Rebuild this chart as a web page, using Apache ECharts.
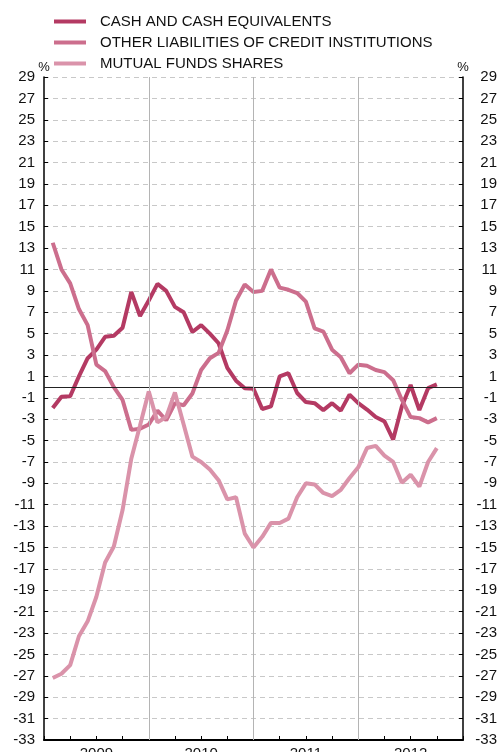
<!DOCTYPE html>
<html>
<head>
<meta charset="utf-8">
<script src="https://cdn.jsdelivr.net/npm/echarts@6/dist/echarts.min.js"></script>
<style>
  html, body { margin: 0; padding: 0; background: #fff; }
  #chart { width: 500px; height: 752px; }
</style>
</head>
<body>
<div id="chart"></div>
<script>
// Monthly observations (end of month), Jan 2009 - Sep 2012
const months = [
  '2009-01','2009-02','2009-03','2009-04','2009-05','2009-06','2009-07','2009-08','2009-09','2009-10','2009-11','2009-12',
  '2010-01','2010-02','2010-03','2010-04','2010-05','2010-06','2010-07','2010-08','2010-09','2010-10','2010-11','2010-12',
  '2011-01','2011-02','2011-03','2011-04','2011-05','2011-06','2011-07','2011-08','2011-09','2011-10','2011-11','2011-12',
  '2012-01','2012-02','2012-03','2012-04','2012-05','2012-06','2012-07','2012-08','2012-09'
];

const years = ['2009', '2010', '2011', '2012'];

const seriesNames = [
  'CASH AND CASH EQUIVALENTS',
  'OTHER LIABILITIES OF CREDIT INSTITUTIONS',
  'MUTUAL FUNDS SHARES'
];

// Annual growth rates, %
const cashEquivalents = [
  -1.95, -0.9, -0.85, 1.0, 2.7, 3.5, 4.7, 4.8, 5.55, 8.9, 6.65, 8.1,
  9.65, 9.0, 7.5, 7.0, 5.15, 5.8, 5.0, 4.1, 1.8, 0.6, -0.1, -0.15,
  -2.05, -1.8, 1.0, 1.3, -0.55, -1.4, -1.5, -2.15, -1.5, -2.2, -0.7, -1.5,
  -2.1, -2.8, -3.2, -4.9, -1.8, 0.2, -2.15, -0.1, 0.25
];

const otherLiabilities = [
  13.5, 11.0, 9.7, 7.3, 5.8, 2.1, 1.5, 0.0, -1.2, -4.0, -3.9, -3.5,
  -2.2, -3.1, -1.5, -1.7, -0.6, 1.6, 2.7, 3.2, 5.3, 8.1, 9.6, 8.9,
  9.0, 11.0, 9.3, 9.1, 8.8, 8.0, 5.5, 5.2, 3.5, 2.8, 1.3, 2.1,
  2.0, 1.6, 1.4, 0.65, -1.2, -2.8, -2.9, -3.3, -2.9
];

const mutualFunds = [
  -27.2, -26.8, -26.0, -23.3, -21.9, -19.6, -16.4, -14.9, -11.5, -6.7, -3.6, -0.4,
  -3.3, -2.8, -0.5, -3.5, -6.5, -7.0, -7.7, -8.7, -10.5, -10.3, -13.7, -15.0,
  -14.0, -12.7, -12.7, -12.3, -10.3, -9.0, -9.1, -9.9, -10.2, -9.6, -8.5, -7.5,
  -5.7, -5.5, -6.4, -7.0, -8.95, -8.2, -9.3, -7.0, -5.7
];

// Year boundaries on the time axis (months since start of 2009)
const yearBreaks = [12, 24, 36];

// Position of a month end on the time axis
function monthPos(m) {
  const parts = m.split('-');
  return (parseInt(parts[0], 10) - 2009) * 12 + parseInt(parts[1], 10);
}

function pairs(values) {
  return values.map(function (v, i) { return [monthPos(months[i]), v]; });
}

const FONT = "'Liberation Sans', Arial, Helvetica, sans-serif";
const colors = ['#b43a63', '#cc6e8d', '#da93aa'];

function yAxisDef(side) {
  return {
    type: 'value',
    position: side,
    min: -33,
    max: 29,
    interval: 2,
    name: '%',
    nameLocation: 'end',
    nameGap: 3,
    nameMoveOverlap: false,
    nameTextStyle: { fontFamily: FONT, fontSize: 13, color: '#111', align: 'center' },
    axisLine: { show: true, onZero: false, lineStyle: { color: '#000', width: 1.5 } },
    axisTick: { show: true, inside: true, length: 4, lineStyle: { color: '#000', width: 1 } },
    axisLabel: side === 'left'
      ? { fontFamily: FONT, fontSize: 15, color: '#111', margin: 9 }
      : { fontFamily: FONT, fontSize: 15, color: '#111', margin: 34, align: 'right' },
    splitLine: side === 'left'
      ? { show: true, lineStyle: { color: '#c8c8c8', width: 1, type: [5, 4] } }
      : { show: false }
  };
}

const chart = echarts.init(document.getElementById('chart'), null, { renderer: 'canvas' });

chart.setOption({
  animation: false,
  backgroundColor: '#fff',
  color: colors,
  textStyle: { fontFamily: FONT },
  legend: {
    orient: 'vertical',
    left: 54,
    top: 14,
    padding: 0,
    icon: 'rect',
    itemWidth: 32,
    itemHeight: 4,
    itemGap: 6,
    selectedMode: false,
    data: seriesNames,
    textStyle: { fontFamily: FONT, fontSize: 15, color: '#111', lineHeight: 15, padding: [0, 0, 0, 9] }
  },
  grid: { left: 44, right: 37, top: 77, bottom: 12, containLabel: false, outerBoundsMode: 'none' },
  xAxis: {
    type: 'value',
    min: 0,
    max: 48,
    interval: 3,
    axisLine: { show: true, onZero: false, lineStyle: { color: '#000', width: 2 } },
    axisTick: { show: true, inside: true, length: 4, lineStyle: { color: '#000', width: 1 } },
    axisLabel: {
      show: true,
      margin: 6,
      fontFamily: FONT,
      fontSize: 15,
      color: '#111',
      formatter: function (v) {
        return (v % 12 === 6) ? years[(v - 6) / 12] : '';
      }
    },
    splitLine: { show: false }
  },
  yAxis: [yAxisDef('left'), yAxisDef('right')],
  series: [
    {
      name: seriesNames[0],
      type: 'line',
      data: pairs(cashEquivalents),
      symbol: 'none',
      lineStyle: { width: 4, color: colors[0] },
      markLine: {
        silent: true,
        symbol: 'none',
        label: { show: false },
        data: [
          { yAxis: 0, lineStyle: { color: '#222', width: 1, type: 'solid' } }
        ].concat(yearBreaks.map(function (x) {
          return { xAxis: x, lineStyle: { color: '#b4b4b4', width: 1, type: 'solid' } };
        }))
      },
      z: 3
    },
    {
      name: seriesNames[1],
      type: 'line',
      data: pairs(otherLiabilities),
      symbol: 'none',
      lineStyle: { width: 4, color: colors[1] },
      z: 4
    },
    {
      name: seriesNames[2],
      type: 'line',
      data: pairs(mutualFunds),
      symbol: 'none',
      lineStyle: { width: 4, color: colors[2] },
      z: 5
    }
  ]
});
</script>
</body>
</html>
